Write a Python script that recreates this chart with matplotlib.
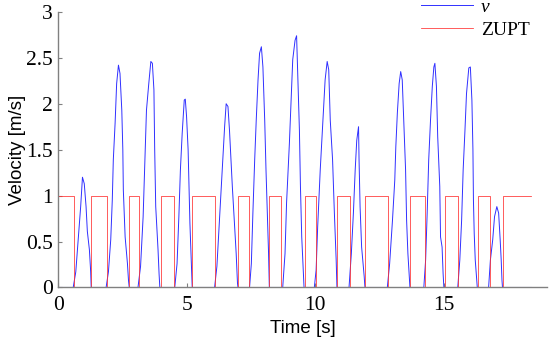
import matplotlib
matplotlib.use("Agg")
import matplotlib.pyplot as plt

# Velocity trace (time [s], velocity [m/s])
time_v = [0.00, 0.58, 0.68, 0.78, 0.87, 0.94, 1.01, 1.08, 1.13, 1.21, 1.26, 1.28,
          1.86, 1.95, 2.04, 2.10, 2.14, 2.21, 2.27, 2.34, 2.40, 2.47, 2.51, 2.53, 2.60, 2.69, 2.73, 2.76,
          3.10, 3.20, 3.30, 3.37, 3.43, 3.52, 3.60, 3.66, 3.72, 3.75, 3.79, 3.88, 3.92, 3.95,
          4.53, 4.62, 4.69, 4.75, 4.82, 4.90, 4.94, 4.99, 5.05, 5.12, 5.18, 5.21,
          6.08, 6.17, 6.27, 6.38, 6.47, 6.53, 6.60, 6.66, 6.77, 6.86, 6.92, 6.97, 6.99,
          7.44, 7.51, 7.57, 7.64, 7.70, 7.77, 7.83, 7.90, 7.96, 8.03, 8.08, 8.14, 8.18, 8.21,
          8.73, 8.82, 8.88, 8.99, 9.05, 9.12, 9.21, 9.27, 9.31, 9.38, 9.42, 9.47, 9.53, 9.56,
          9.96, 10.03, 10.09, 10.19, 10.28, 10.38, 10.46, 10.52, 10.58, 10.67, 10.74, 10.81, 10.84,
          11.31, 11.40, 11.48, 11.55, 11.61, 11.68, 11.70, 11.74, 11.80, 11.90, 11.93,
          12.80, 12.89, 13.00, 13.09, 13.13, 13.19, 13.26, 13.32, 13.38, 13.44, 13.51, 13.55, 13.60, 13.66, 13.68,
          14.22, 14.29, 14.35, 14.41, 14.48, 14.55, 14.61, 14.65, 14.71, 14.76, 14.84, 14.87, 14.93, 14.97, 15.00,
          15.54, 15.62, 15.69, 15.75, 15.82, 15.88, 15.97, 16.03, 16.09, 16.13, 16.15, 16.18, 16.22, 16.28, 16.30,
          16.74, 16.81, 16.90, 16.97, 17.06, 17.13, 17.19, 17.23, 17.26, 17.28, 18.40]
velocity = [0.00, 0.00, 0.17, 0.55, 0.88, 1.20, 1.13, 0.88, 0.61, 0.41, 0.17, 0.00,
            0.00, 0.17, 0.52, 0.95, 1.39, 1.79, 2.22, 2.42, 2.33, 1.93, 1.50, 1.06, 0.55, 0.26, 0.08, 0.00,
            0.00, 0.23, 0.77, 1.39, 1.93, 2.22, 2.46, 2.44, 2.15, 1.50, 0.88, 0.41, 0.15, 0.00,
            0.00, 0.26, 0.77, 1.28, 1.68, 2.04, 2.05, 1.86, 1.50, 0.70, 0.23, 0.00,
            0.00, 0.23, 0.73, 1.28, 1.75, 2.00, 1.97, 1.71, 1.10, 0.66, 0.37, 0.05, 0.00,
            0.00, 0.26, 0.81, 1.39, 1.82, 2.26, 2.55, 2.62, 2.40, 1.82, 1.28, 0.73, 0.37, 0.00,
            0.00, 0.37, 0.92, 1.57, 2.00, 2.48, 2.69, 2.74, 2.37, 1.71, 1.10, 0.55, 0.19, 0.00,
            0.00, 0.19, 0.66, 1.28, 1.75, 2.26, 2.46, 2.37, 1.82, 1.39, 0.81, 0.30, 0.00,
            0.00, 0.37, 0.81, 1.28, 1.60, 1.75, 1.39, 0.88, 0.44, 0.12, 0.00,
            0.00, 0.26, 0.73, 1.17, 1.53, 1.90, 2.22, 2.35, 2.26, 1.82, 1.28, 0.73, 0.37, 0.08, 0.00,
            0.00, 0.30, 0.81, 1.39, 1.82, 2.19, 2.40, 2.44, 2.19, 1.64, 1.10, 0.55, 0.44, 0.15, 0.00,
            0.00, 0.30, 0.73, 1.28, 1.71, 2.11, 2.39, 2.40, 2.04, 1.50, 0.95, 0.59, 0.30, 0.08, 0.00,
            0.00, 0.30, 0.52, 0.77, 0.88, 0.81, 0.52, 0.30, 0.08, 0.00, 0.00]

# ZUPT detector: switch times and the state from each switch on
zupt_time = [0.00, 0.62, 1.29, 1.91, 2.75, 3.13, 3.98, 4.51, 5.20, 6.09, 6.98, 7.42,
             8.21, 8.68, 9.60, 10.02, 10.84, 11.34, 11.94, 12.81, 13.70, 14.26,
             15.05, 15.54, 16.32, 16.79, 17.30, 18.40]
zupt_state = [1, 0, 1, 0, 1, 0, 1, 0, 1, 0, 1, 0,
              1, 0, 1, 0, 1, 0, 1, 0, 1, 0,
              1, 0, 1, 0, 1, 1]

x_ticks = [0, 5, 10, 15]
y_ticks = [0, 0.5, 1, 1.5, 2, 2.5, 3]
y_tick_labels = ["0", "0.5", "1", "1.5", "2", "2.5", "3"]

serif = ["Liberation Serif", "DejaVu Serif"]
sans = ["Liberation Sans", "DejaVu Sans"]
plt.rcParams["font.family"] = serif
plt.rcParams["font.size"] = 15

fig = plt.figure(figsize=(5.5, 3.39), dpi=100)
ax = fig.add_axes([0.106, 0.152, 0.888, 0.813])

ax.plot(time_v, velocity, color="#3030ff", lw=0.7, label="v")
ax.plot(zupt_time, zupt_state, color="#ff3030", lw=0.55, drawstyle="steps-post", label="ZUPT")

ax.set_xlim(0, 19)
ax.set_ylim(0, 3)
ax.set_xticks(x_ticks)
ax.set_xticklabels([str(t) for t in x_ticks], fontsize=15.5, fontfamily=serif)
ax.set_yticks(y_ticks)
ax.set_yticklabels(y_tick_labels, fontsize=15.5, fontfamily=serif)

ax.tick_params(direction="in", length=3, width=0.8, color="#808080")
ax.tick_params(axis="x", pad=6)
ax.tick_params(axis="y", pad=4)
for side in ["top", "right"]:
    ax.spines[side].set_visible(False)
for side in ["left", "bottom"]:
    ax.spines[side].set_color("#808080")
    ax.spines[side].set_linewidth(1.0)

ax.set_xlabel("Time [s]", family=sans, fontsize=13.5, labelpad=4)
ax.set_ylabel("Velocity [m/s]", family=sans, fontsize=13.5, labelpad=0)

leg = ax.legend(loc="upper left", bbox_to_anchor=(0.765, 1.004), bbox_transform=fig.transFigure,
                frameon=False, handlelength=2.7, handletextpad=0.4, labelspacing=0.25,
                prop={"family": serif, "size": 14}, borderaxespad=0, borderpad=0)
leg.get_texts()[0].set_style("italic")

fig.savefig("out.png", dpi=100)
